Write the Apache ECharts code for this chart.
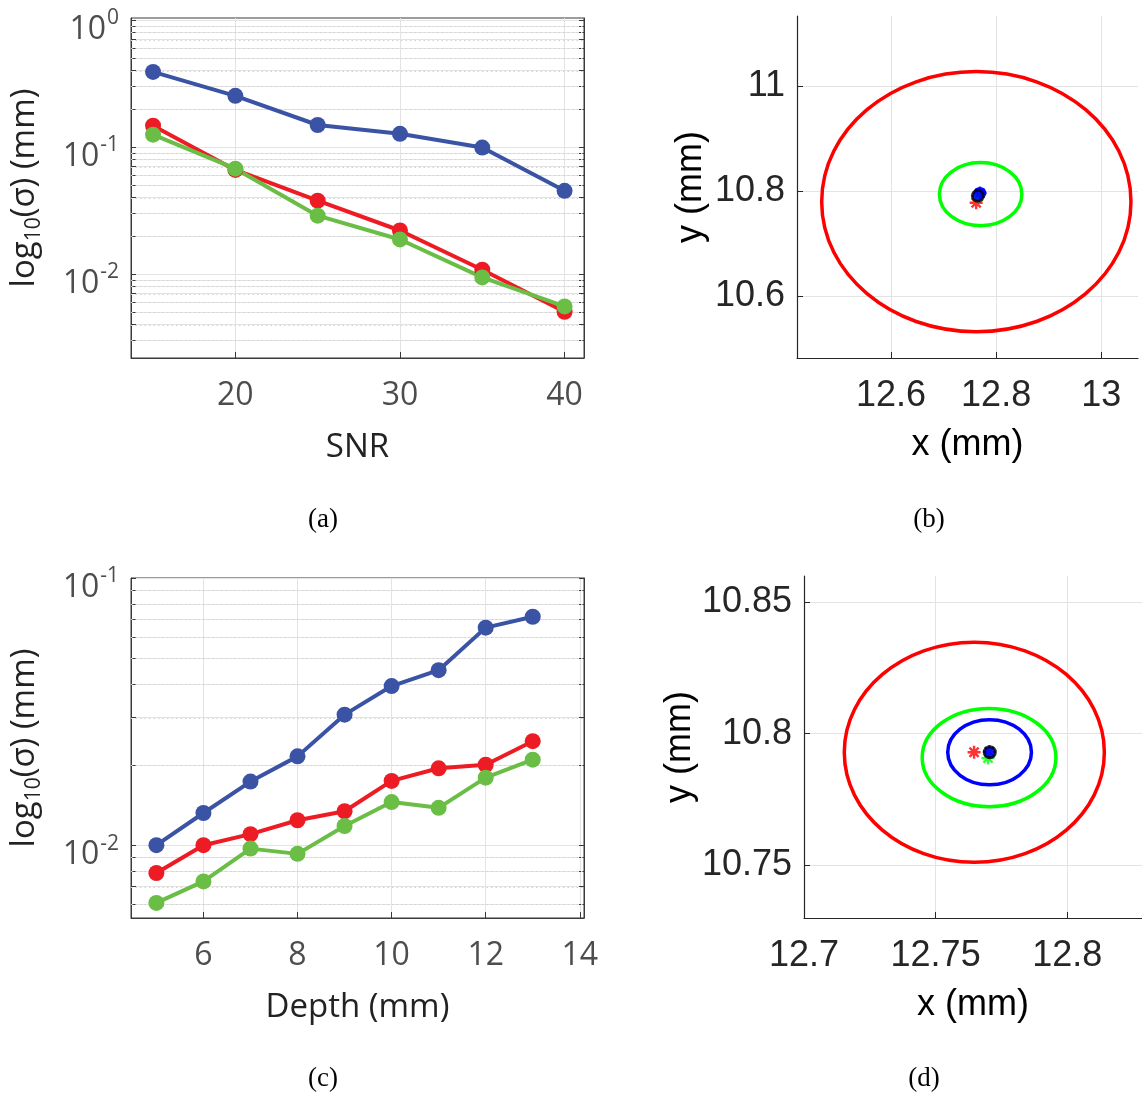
<!DOCTYPE html>
<html><head><meta charset="utf-8">
<script src="https://cdn.jsdelivr.net/npm/echarts/dist/echarts.min.js"></script>
<style>html,body{margin:0;padding:0;background:#fff}#c{width:1142px;height:1094px}</style>
</head><body><div id="c"></div>
<script>
// ---------- (a) sigma vs SNR ----------
const snr = [15, 20, 25, 30, 35, 40];
const snrBlue = [0.39, 0.253, 0.149, 0.127, 0.099, 0.0452];
const snrRed = [0.147, 0.066, 0.0378, 0.0220, 0.0108, 0.00504];
const snrGreen = [0.125, 0.0675, 0.0288, 0.0187, 0.0094, 0.00555];
const snrTicks = [20, 30, 40];
const logTicksA = [0.01, 0.1, 1];

// ---------- (c) sigma vs depth ----------
const depth = [5, 6, 7, 8, 9, 10, 11, 12, 13];
const depthBlue = [0.0100, 0.0132, 0.0173, 0.0215, 0.0308, 0.0394, 0.0452, 0.0652, 0.0716];
const depthRed = [0.00787, 0.0100, 0.0110, 0.0124, 0.0134, 0.0174, 0.0194, 0.0200, 0.0245];
const depthGreen = [0.00608, 0.00732, 0.00971, 0.00928, 0.0118, 0.0145, 0.0138, 0.0179, 0.0209];
const depthTicks = [6, 8, 10, 12, 14];
const logTicksC = [0.01, 0.1];

// ---------- (b) ellipses, SNR case ----------
const bEllCx = [12.7623, 12.7705, 12.7692];
const bEllCy = [10.7796, 10.7939, 10.7960];
const bEllRx = [0.2943, 0.0785, 0.009];
const bEllRy = [0.2476, 0.0600, 0.008];
const bStarRed = [12.7620, 10.7774];
const bStarGreen = [12.7660, 10.7900];
const bStarBlue = [12.7692, 10.7960];
const bTrue = [12.7652, 10.7907];
const bTicksX = [12.6, 12.8, 13];
const bTicksY = [10.6, 10.8, 11];

// ---------- (d) ellipses, depth case ----------
const dEllCx = [12.7647, 12.7703, 12.7705];
const dEllCy = [10.7929, 10.7909, 10.7929];
const dEllRx = [0.0494, 0.0254, 0.0159];
const dEllRy = [0.0419, 0.0187, 0.0124];
const dStarRed = [12.7646, 10.7929];
const dStarGreen = [12.7699, 10.7907];
const dStarBlue = [12.7704, 10.7931];
const dTrue = [12.7706, 10.7929];
const dTicksX = [12.7, 12.75, 12.8];
const dTicksY = [10.75, 10.8, 10.85];

const lineColors = ['#3A53A4', '#ED1C24', '#6ABD45'];
const ellColors = ['#FF0000', '#00FF00', '#0000FF'];
const STAR = 'path://M10,0L10,20M0,10L20,10M3,3L17,17M3,17L17,3';

function minors(lo, hi) {
  const out = [];
  for (let e = -4; e <= 1; e++) for (let m = 2; m <= 9; m++) {
    const v = +(m * Math.pow(10, e)).toPrecision(3);
    if (v > lo && v < hi) out.push(v);
  }
  return out;
}
const minorA = minors(0.00218, 1.037);
const minorC = minors(0.00534, 0.1);

function logFmt(v) {
  const e = Math.log10(v), r = Math.round(e);
  if (Math.abs(e - r) > 1e-6) return '';
  return '{b|10}{s|' + (r < 0 ? '-' + (-r) : r) + '}';
}
const FA = 'Open Sans';
const FB = 'Liberation Sans';
const supRich = {
  b: { fontSize: 32, fontFamily: FA, color: '#4d4d4d', lineHeight: 32, verticalAlign: 'bottom' },
  s: { fontSize: 21, fontFamily: FA, color: '#4d4d4d', lineHeight: 40, verticalAlign: 'top', padding: [2, 0, 0, 1] }
};
const nameRichA = {
  a: { fontSize: 33, fontFamily: FA, color: '#222', lineHeight: 40 },
  s: { fontSize: 21, fontFamily: FA, color: '#222', lineHeight: 20, verticalAlign: 'bottom' }
};

function lineSeries(xi, xs, ys, color) {
  return {
    type: 'line', xAxisIndex: xi, yAxisIndex: xi,
    data: xs.map((x, i) => [x, ys[i]]),
    symbol: 'circle', symbolSize: 16, showSymbol: true,
    lineStyle: { color: color, width: 4 },
    itemStyle: { color: color },
    z: 3
  };
}
function minorGridSeries(gi, xAnchor, vals) {
  return {
    type: 'custom', xAxisIndex: gi, yAxisIndex: gi, silent: true, clip: true, z: 1,
    data: vals.map(v => [xAnchor, v]), encode: { x: 0, y: 1 },
    renderItem: function (params, api) {
      const p = api.coord([api.value(0), api.value(1)]);
      const cs = params.coordSys;
      const y = Math.round(p[1]) + 0.5;
      return {
        type: 'line',
        shape: { x1: cs.x, y1: y, x2: cs.x + cs.width, y2: y },
        style: { stroke: '#d2d2d2', lineWidth: 1, lineDash: [1.5, 3] }
      };
    }
  };
}
function ellipseSeries(gi, cx, cy, rx, ry) {
  return {
    type: 'custom', xAxisIndex: gi, yAxisIndex: gi, clip: true, silent: true,
    data: cx.map((v, i) => [v, cy[i], rx[i], ry[i], i]),
    encode: { x: 0, y: 1 },
    renderItem: function (params, api) {
      const c = api.coord([api.value(0), api.value(1)]);
      const s = api.size([api.value(2), api.value(3)]);
      return {
        type: 'ellipse',
        shape: { cx: c[0], cy: c[1], rx: s[0], ry: s[1] },
        style: { fill: 'none', stroke: ellColors[api.value(4)], lineWidth: 3.5 }
      };
    },
    z: 2
  };
}
function starSeries(gi, p, color) {
  return {
    type: 'scatter', xAxisIndex: gi, yAxisIndex: gi, data: [p],
    symbol: STAR, symbolSize: 13,
    itemStyle: { color: 'none', borderColor: color, borderWidth: 2.4 }, z: 4
  };
}
function trueSeries(gi, p) {
  return {
    type: 'scatter', xAxisIndex: gi, yAxisIndex: gi, data: [p],
    symbol: 'circle', symbolSize: 11,
    itemStyle: { color: '#0000FF', borderColor: '#000', borderWidth: 3 }, z: 5
  };
}

function xAxisA(gi, min, max, ticks, name) {
  return {
    type: 'value', gridIndex: gi, min: min, max: max,
    axisLine: { show: true, onZero: false, lineStyle: { color: '#3a3a3a', width: 1 } },
    axisTick: { show: true, inside: true, length: 6, customValues: ticks, lineStyle: { color: '#3a3a3a' } },
    axisLabel: { customValues: ticks, margin: 22, fontSize: 32, fontFamily: FA, color: '#4d4d4d' },
    splitLine: { show: true, lineStyle: { color: '#e3e3e3', width: 1 } },
    name: name, nameLocation: 'middle', nameGap: 73,
    nameTextStyle: { fontSize: 33, fontFamily: FA, color: '#222' }
  };
}
function yAxisA(gi, min, max, ticks, minorTicks) {
  return {
    type: 'log', logBase: 10, gridIndex: gi, min: min, max: max,
    axisLine: { show: true, lineStyle: { color: '#3a3a3a', width: 1 } },
    axisTick: { show: true, inside: true, length: 5, customValues: ticks.concat(minorTicks), lineStyle: { color: '#3a3a3a' } },
    axisLabel: { customValues: ticks, formatter: logFmt, margin: 12, padding: [12, 0, 0, 0], rich: supRich },
    splitLine: { show: true, lineStyle: { color: '#e3e3e3', width: 1 } },
    name: '{a|log}{s|10}{a|(σ) (mm)}', nameLocation: 'middle', nameGap: 86, nameRotate: 90,
    nameTextStyle: { rich: nameRichA }
  };
}
function yAxisRight(gi, min, max, ticks, minorTicks) {
  return {
    type: 'log', logBase: 10, gridIndex: gi, min: min, max: max, position: 'right',
    axisLine: { show: true, lineStyle: { color: '#3a3a3a', width: 1 } },
    axisTick: { show: true, inside: true, length: 5, customValues: ticks.concat(minorTicks), lineStyle: { color: '#3a3a3a' } },
    axisLabel: { show: false },
    splitLine: { show: false }
  };
}
function xAxisB(gi, min, max, ticks) {
  return {
    type: 'value', gridIndex: gi, min: min, max: max,
    axisLine: { show: true, onZero: false, lineStyle: { color: '#262626', width: 1.2 } },
    axisTick: { show: true, inside: true, length: 6, customValues: ticks, lineStyle: { color: '#262626' } },
    axisLabel: { customValues: ticks, margin: 20, fontSize: 36, fontFamily: FB, color: '#262626' },
    splitLine: { show: true, lineStyle: { color: '#e3e3e3', width: 1 } },
    name: 'x (mm)', nameLocation: 'middle', nameGap: 69,
    nameTextStyle: { fontSize: 36, fontFamily: FB, color: '#000' }
  };
}
function yAxisB(gi, min, max, ticks) {
  return {
    type: 'value', gridIndex: gi, min: min, max: max,
    axisLine: { show: true, onZero: false, lineStyle: { color: '#262626', width: 1.2 } },
    axisTick: { show: true, inside: true, length: 6, customValues: ticks, lineStyle: { color: '#262626' } },
    axisLabel: { customValues: ticks, margin: 12, fontSize: 36, fontFamily: FB, color: '#262626' },
    splitLine: { show: true, lineStyle: { color: '#e3e3e3', width: 1 } },
    name: 'y (mm)', nameLocation: 'middle', nameGap: 88, nameRotate: 90,
    nameTextStyle: { fontSize: 36, fontFamily: FB, color: '#000' }
  };
}

const capStyle = { fontSize: 27, fontFamily: 'Liberation Serif', fill: '#000', align: 'center', verticalAlign: 'middle' };
const gridBase = { containLabel: false, outerBoundsMode: 'none' };

const option = {
  animation: false,
  backgroundColor: '#fff',
  grid: [
    Object.assign({ left: 131, top: 18, width: 453, height: 340, show: true, borderColor: '#3a3a3a', borderWidth: 1 }, gridBase),
    Object.assign({ left: 797, top: 16, width: 341, height: 342 }, gridBase),
    Object.assign({ left: 131, top: 578, width: 453, height: 340, show: true, borderColor: '#3a3a3a', borderWidth: 1 }, gridBase),
    Object.assign({ left: 804, top: 576, width: 338, height: 342 }, gridBase)
  ],
  xAxis: [
    xAxisA(0, 13.66, 41.18, snrTicks, 'SNR'),
    xAxisB(1, 12.421, 13.070, bTicksX),
    xAxisA(2, 4.46, 14.09, depthTicks, 'Depth (mm)'),
    xAxisB(3, 12.7, 12.8284, dTicksX)
  ],
  yAxis: [
    yAxisA(0, 0.00218, 1.037, logTicksA, minorA),
    yAxisB(1, 10.482, 11.133, bTicksY),
    yAxisA(2, 0.00534, 0.1, logTicksC, minorC),
    yAxisB(3, 10.7298, 10.860, dTicksY),
    yAxisRight(0, 0.00218, 1.037, logTicksA, minorA),
    yAxisRight(2, 0.00534, 0.1, logTicksC, minorC)
  ],
  series: [
    minorGridSeries(0, 20, minorA),
    lineSeries(0, snr, snrBlue, lineColors[0]),
    lineSeries(0, snr, snrRed, lineColors[1]),
    lineSeries(0, snr, snrGreen, lineColors[2]),
    minorGridSeries(2, 6, minorC),
    lineSeries(2, depth, depthBlue, lineColors[0]),
    lineSeries(2, depth, depthRed, lineColors[1]),
    lineSeries(2, depth, depthGreen, lineColors[2]),
    ellipseSeries(1, bEllCx, bEllCy, bEllRx, bEllRy),
    starSeries(1, bStarRed, '#FF0000'),
    starSeries(1, bStarGreen, '#00FF00'),
    starSeries(1, bStarBlue, '#0000FF'),
    trueSeries(1, bTrue),
    ellipseSeries(3, dEllCx, dEllCy, dEllRx, dEllRy),
    starSeries(3, dStarRed, '#FF0000'),
    starSeries(3, dStarGreen, '#00FF00'),
    starSeries(3, dStarBlue, '#0000FF'),
    trueSeries(3, dTrue)
  ],
  graphic: [
    { type: 'text', x: 323, y: 520, style: Object.assign({ text: '(a)' }, capStyle) },
    { type: 'text', x: 929, y: 520, style: Object.assign({ text: '(b)' }, capStyle) },
    { type: 'text', x: 323, y: 1079, style: Object.assign({ text: '(c)' }, capStyle) },
    { type: 'text', x: 924, y: 1079, style: Object.assign({ text: '(d)' }, capStyle) }
  ]
};
const chart = echarts.init(document.getElementById('c'));
chart.setOption(option);
</script>
</body></html>
